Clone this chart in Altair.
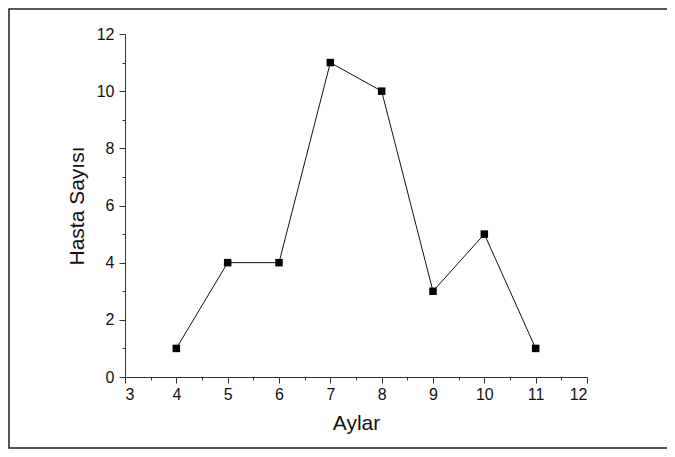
import altair as alt
import pandas as pd

months = [4, 5, 6, 7, 8, 9, 10, 11]
patients = [1, 4, 4, 11, 10, 3, 5, 1]

x_major = [3, 4, 5, 6, 7, 8, 9, 10, 11, 12]
x_minor = [3.5, 4.5, 5.5, 6.5, 7.5, 8.5, 9.5, 10.5, 11.5]
y_major = [0, 2, 4, 6, 8, 10, 12]
y_minor = [1, 3, 5, 7, 9, 11]

df = pd.DataFrame({"Aylar": months, "Hasta": patients})

FONT = "Liberation Sans"
W, H = 462, 343

xscale = alt.Scale(domain=[3, 12], nice=False, zero=False)
yscale = alt.Scale(domain=[0, 12], nice=False)

base = alt.Chart(df)

line = base.mark_line(color="#111111", strokeWidth=1).encode(
    x=alt.X("Aylar:Q", scale=xscale,
            axis=alt.Axis(orient="bottom", values=x_major, title="Aylar", format="d",
                          tickSize=6, labelPadding=3, titlePadding=10,
                          labelFontSize=16, titleFontSize=21, titleFontWeight="normal",
                          labelFont=FONT, titleFont=FONT, grid=False,
                          domainColor="#333333", tickColor="#333333",
                          labelColor="#111111", titleColor="#111111")),
    y=alt.Y("Hasta:Q", scale=yscale,
            axis=alt.Axis(orient="left", values=y_major, title="Hasta Sayısı", format="d",
                          tickSize=6, labelPadding=5, titlePadding=9,
                          labelFontSize=16, titleFontSize=21, titleFontWeight="normal",
                          labelFont=FONT, titleFont=FONT, grid=False,
                          domainColor="#333333", tickColor="#333333",
                          labelColor="#111111", titleColor="#111111")),
)

points = base.mark_point(shape="square", filled=True, color="#000000", size=56, opacity=1).encode(
    x=alt.X("Aylar:Q", scale=xscale,
            axis=alt.Axis(orient="bottom", values=x_minor, labels=False, title=None, domain=False,
                          tickSize=3, grid=False, tickColor="#333333")),
    y=alt.Y("Hasta:Q", scale=yscale,
            axis=alt.Axis(orient="left", values=y_minor, labels=False, title=None, domain=False,
                          tickSize=3, grid=False, tickColor="#333333")),
)

frame = alt.Chart(pd.DataFrame({"f": [0]})).mark_rect(
    fill=None, stroke="#222222", strokeWidth=1.5
).encode(
    x=alt.value(-116), x2=alt.value(W + 100),
    y=alt.value(-25), y2=alt.value(H + 71),
)

chart = alt.layer(frame, line, points).resolve_axis(
    x="independent", y="independent"
).properties(
    width=W, height=H,
    background="white",
    autosize=alt.AutoSizeParams(type="none"),
    padding={"left": 117, "top": 26, "right": 80, "bottom": 72},
).configure_view(stroke=None, strokeWidth=0)

chart.save("out.html", embed_options={"renderer": "svg", "actions": False})
